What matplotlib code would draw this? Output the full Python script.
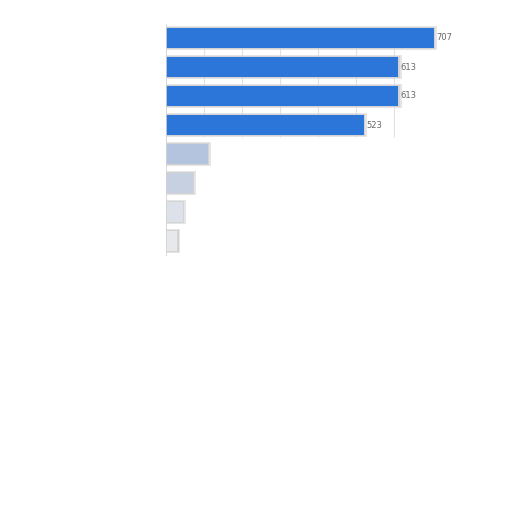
import numpy as np
import matplotlib
matplotlib.use('Agg')
import matplotlib.pyplot as plt

# values, top to bottom
values = [707, 613, 613, 523, 110, 70, 45, 30]
labels = ['707', '613', '613', '523', '', '', '', '']
bar_colors = ['#2c76da', '#2c76da', '#2c76da', '#2c76da',
              '#b4c4de', '#c6d0e0', '#dde2ea', '#e6e8ec']
grid_ticks = [100, 200, 300, 400, 500, 600]

fig = plt.figure(figsize=(5.12, 5.12), dpi=100)
# axes placed in pixel terms: left 166, right 480, top 23.5, bottom 255.5
ax = fig.add_axes([166 / 512, 1 - 255.5 / 512, 314 / 512, 232 / 512])

y = np.arange(len(values))
ax.set_xlim(0, 828)
ax.set_ylim(len(values) - 0.5, -0.5)

#Grid lines only behind the top bars
ax.vlines(grid_ticks, -0.3, 3.4, color='#e2e2e2', linewidth=0.8, zorder=0)

#Soft shadow under bars
ax.barh(y, np.array(values) + 10, height=0.86, left=-2, color='#d4d4d4',
        alpha=0.6, zorder=1)
ax.barh(y, np.array(values) + 4, height=0.76, left=-1, color='#c8c8c8',
        alpha=0.6, zorder=1)
ax.barh(y, values, height=0.69, color=bar_colors, zorder=2)

#Value labels
for yi, v, lab in zip(y, values, labels):
    if lab:
        ax.text(v + 6, yi, lab, va='center', ha='left', fontsize=6,
                color='#666666', zorder=3)

ax.axvline(0, color='#d2d2d2', linewidth=1.2, zorder=3)
for s in ax.spines.values():
    s.set_visible(False)
ax.set_xticks([])
ax.set_yticks([])

plt.savefig('out.png', dpi=100)
